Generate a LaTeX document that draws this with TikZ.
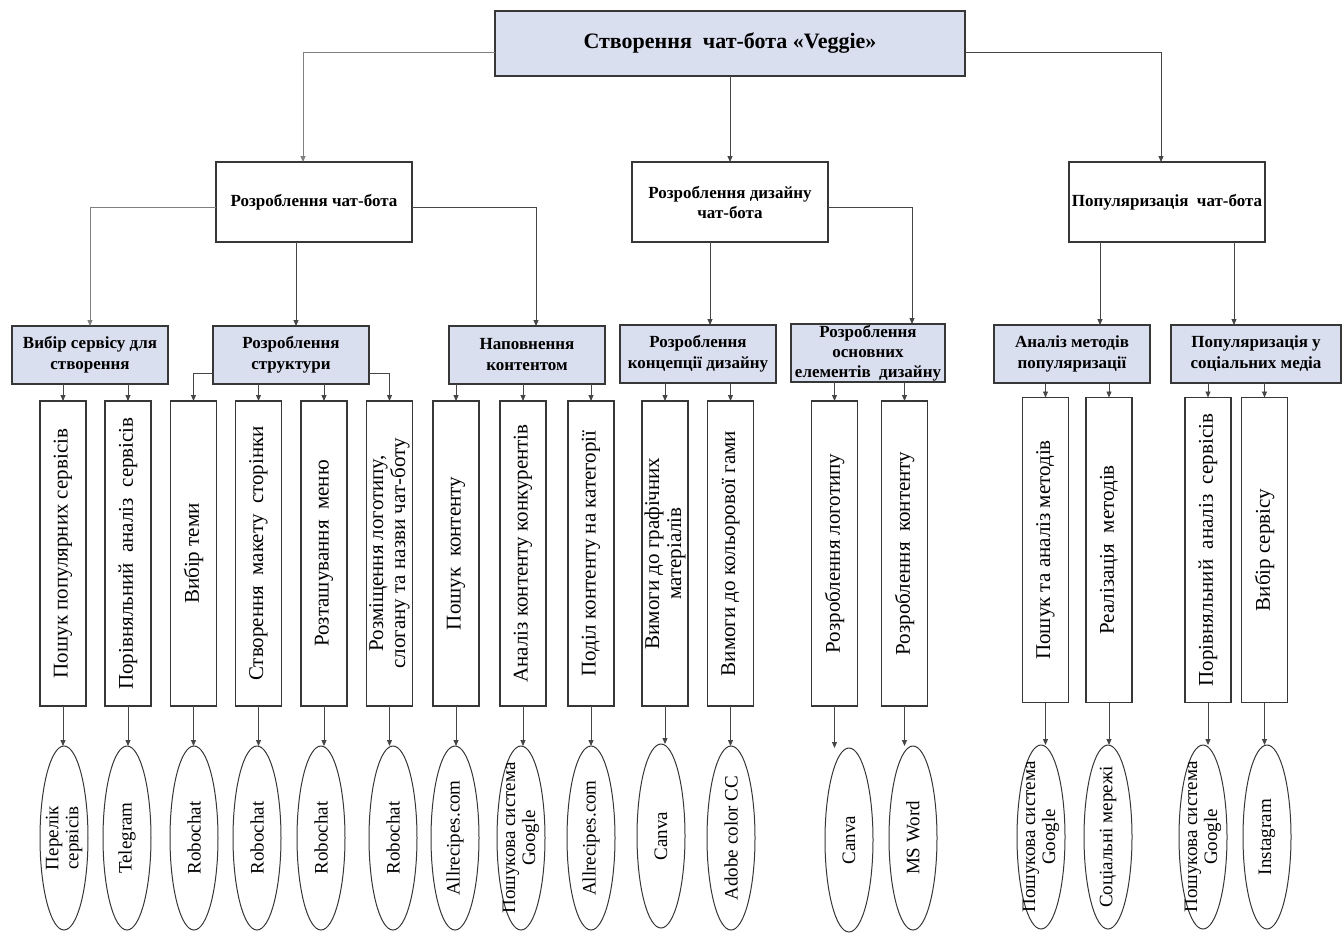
\documentclass[tikz,border=0pt]{standalone}
\usepackage{fontspec}
\setmainfont{Liberation Serif}
\usetikzlibrary{arrows.meta,shapes.geometric}
\definecolor{boxblue}{RGB}{218,223,240}
\definecolor{linegray}{RGB}{55,55,55}
\definecolor{conngray}{RGB}{70,70,70}
\begin{document}
\begin{tikzpicture}[x=1pt,y=-1pt,
  every node/.style={inner sep=0pt, outer sep=0pt},
  topbox/.style={draw=linegray, line width=1.3pt, fill=boxblue, minimum width=470pt, minimum height=65pt, font=\bfseries\fontsize{22}{26}\selectfont},
  midbox/.style={draw=linegray, line width=1.1pt, fill=white, minimum width=196pt, minimum height=80pt, align=center, font=\bfseries\fontsize{17}{20}\selectfont},
  subbox/.style={draw=linegray, line width=1.3pt, fill=boxblue, minimum width=156pt, minimum height=58pt, align=center, font=\bfseries\fontsize{17}{21}\selectfont},
  vbox/.style={draw=linegray, line width=1.1pt, fill=white, minimum width=46pt, minimum height=305pt},
  vtext/.style={rotate=90, align=center, font=\fontsize{21}{22}\selectfont},
  ell/.style={ellipse, draw=linegray, line width=1pt, minimum width=48pt, minimum height=184pt},
  etext/.style={rotate=90, align=center, font=\fontsize{19}{20}\selectfont},
  conn/.style={draw=conngray, line width=0.9pt, -{Triangle[length=6pt,width=5pt]}},
]
\fill[white] (0,0) rectangle (1343,932);
\useasboundingbox (0,0) rectangle (1343,932);

% level 1
\node[topbox] (T) at (730,43.5) {Створення \ чат-бота «Veggie»};

% level 2
\node[midbox] (A) at (314,202) {Розроблення чат-бота};
\node[midbox] (B) at (730,202) {Розроблення дизайну\\чат-бота};
\node[midbox] (C) at (1167,202) {Популяризація \ чат-бота};

% level 3
\node[subbox] (L1) at (90,355) {Вибір сервісу для\\створення};
\node[subbox] (L2) at (291,355) {Розроблення\\структури};
\node[subbox] (L3) at (527,355) {Наповнення\\контентом};
\node[subbox] (L4) at (698,354) {Розроблення\\концепції дизайну};
\node[subbox, minimum width=154pt, font=\bfseries\fontsize{17}{20}\selectfont] (L5) at (868,353) {Розроблення\\основних\\елементів \ дизайну};
\node[subbox] (L6) at (1072,354) {Аналіз методів\\популяризації};
\node[subbox, minimum width=170pt] (L7) at (1256,354) {Популяризація у\\соціальних медіа};

% vertical boxes
\node[vbox] (V1) at (63,553.5) {};
\node[vtext] (V1t) at (V1) {Пошук популярних сервісів};
\node[vbox] (V2) at (128,553.5) {};
\node[vtext] (V2t) at (V2) {Порівняльний \ аналіз \ сервісів};
\node[vbox] (V3) at (193.5,553.5) {};
\node[vtext] (V3t) at (V3) {Вибір теми};
\node[vbox] (V4) at (258.5,553.5) {};
\node[vtext] (V4t) at (V4) {Створення \ макету \ сторінки};
\node[vbox] (V5) at (324,553.5) {};
\node[vtext] (V5t) at (V5) {Розташування \ меню};
\node[vbox] (V6) at (389.5,553.5) {};
\node[vtext] (V6t) at (V6) {Розміщення логотипу,\\слогану та назви чат-боту};
\node[vbox] (V7) at (456,553.5) {};
\node[vtext] (V7t) at (V7) {Пошук \ контенту};
\node[vbox] (V8) at (523,553.5) {};
\node[vtext] (V8t) at (V8) {Аналіз контенту конкурентів};
\node[vbox] (V9) at (591,553.5) {};
\node[vtext] (V9t) at (V9) {Поділ контенту на категорії};
\node[vbox] (V10) at (665,553.5) {};
\node[vtext] (V10t) at (V10) {Вимоги до графічних\\матеріалів};
\node[vbox] (V11) at (730.5,553.5) {};
\node[vtext] (V11t) at (V11) {Вимоги до кольорової гами};
\node[vbox] (V12) at (834.5,553.5) {};
\node[vtext] (V12t) at (V12) {Розроблення логотипу};
\node[vbox] (V13) at (904.5,553.5) {};
\node[vtext] (V13t) at (V13) {Розроблення \ контенту};
\node[vbox] (V14) at (1045.5,550) {};
\node[vtext] (V14t) at (V14) {Пошук та аналіз методів};
\node[vbox] (V15) at (1109,550) {};
\node[vtext] (V15t) at (V15) {Реалізація \ методів};
\node[vbox] (V16) at (1208,550) {};
\node[vtext] (V16t) at (V16) {Порівняльний \ аналіз \ сервісів};
\node[vbox] (V17) at (1264.5,550) {};
\node[vtext] (V17t) at (V17) {Вибір сервісу};

% ellipses
\node[ell] (E1) at (64,838) {};
\node[etext] (E1t) at (E1) {Перелік\\сервісів};
\node[ell] (E2) at (127,838) {};
\node[etext] (E2t) at (E2) {Telegram};
\node[ell] (E3) at (194,838) {};
\node[etext] (E3t) at (E3) {Robochat};
\node[ell] (E4) at (257,838) {};
\node[etext] (E4t) at (E4) {Robochat};
\node[ell] (E5) at (321,838) {};
\node[etext] (E5t) at (E5) {Robochat};
\node[ell] (E6) at (393,838) {};
\node[etext] (E6t) at (E6) {Robochat};
\node[ell] (E7) at (455,838) {};
\node[etext] (E7t) at (E7) {Allrecipes.com};
\node[ell] (E8) at (521,838) {};
\node[etext] (E8t) at (E8) {Пошукова система\\Google};
\node[ell] (E9) at (591,838) {};
\node[etext] (E9t) at (E9) {Allrecipes.com};
\node[ell] (E10) at (661,836) {};
\node[etext] (E10t) at (E10) {Canva};
\node[ell] (E11) at (731,838) {};
\node[etext] (E11t) at (E11) {Adobe color CC};
\node[ell] (E12) at (849,840) {};
\node[etext] (E12t) at (E12) {Canva};
\node[ell] (E13) at (913,838) {};
\node[etext] (E13t) at (E13) {MS Word};
\node[ell] (E14) at (1041,837) {};
\node[etext] (E14t) at (E14) {Пошукова система\\Google};
\node[ell] (E15) at (1108,837) {};
\node[etext] (E15t) at (E15) {Соціальні мережі};
\node[ell] (E16) at (1203,837) {};
\node[etext] (E16t) at (E16) {Пошукова система\\Google};
\node[ell] (E17) at (1267,837) {};
\node[etext] (E17t) at (E17) {Instagram};

% connectors level 1 -> 2
\draw[conn, draw=gray] ([yshift=-9pt]T.west) -| ([xshift=-11pt]A.north);
\draw[conn] (T.south) -- (B.north);
\draw[conn] ([yshift=-9pt]T.east) -| ([xshift=-6pt]C.north);

% level 2 -> 3
\draw[conn, draw=gray] ([yshift=-5pt]A.west) -| (L1.north);
\draw[conn] ([xshift=-18pt]A.south) -- ([xshift=-18pt]A.south |- L2.north);
\draw[conn] ([yshift=-5pt]A.east) -| ([xshift=9pt]L3.north);
\draw[conn] ([xshift=-20pt]B.south) -- ([xshift=-20pt]B.south |- L4.north);
\draw[conn] ([yshift=-5pt]B.east) -| ([xshift=44pt]L5.north);
\draw[conn] ([xshift=-67pt]C.south) -- ([xshift=-67pt]C.south |- L6.north);
\draw[conn] ([xshift=67pt]C.south) -- ([xshift=67pt]C.south |- L7.north);

% level 3 -> vertical boxes
\draw[conn] (V1.north |- L1.south) -- (V1.north);
\draw[conn] (V2.north |- L1.south) -- (V2.north);
\draw[conn] ([yshift=-18pt]L2.west) -| (V3.north);
\draw[conn] (V4.north |- L2.south) -- (V4.north);
\draw[conn] (V5.north |- L2.south) -- (V5.north);
\draw[conn] ([yshift=-18pt]L2.east) -| (V6.north);
\draw[conn] (V7.north |- L3.south) -- (V7.north);
\draw[conn] (V8.north |- L3.south) -- (V8.north);
\draw[conn] (V9.north |- L3.south) -- (V9.north);
\draw[conn] (V10.north |- L4.south) -- (V10.north);
\draw[conn] (V11.north |- L4.south) -- (V11.north);
\draw[conn] (V12.north |- L5.south) -- (V12.north);
\draw[conn] (V13.north |- L5.south) -- (V13.north);
\draw[conn] (V14.north |- L6.south) -- (V14.north);
\draw[conn] (V15.north |- L6.south) -- (V15.north);
\draw[conn] (V16.north |- L7.south) -- (V16.north);
\draw[conn] (V17.north |- L7.south) -- (V17.north);

% vertical boxes -> ellipses
\foreach \i in {1,...,17} {
  \draw[conn] (V\i.south) -- (V\i.south |- E\i.north);
}
\end{tikzpicture}
\end{document}
